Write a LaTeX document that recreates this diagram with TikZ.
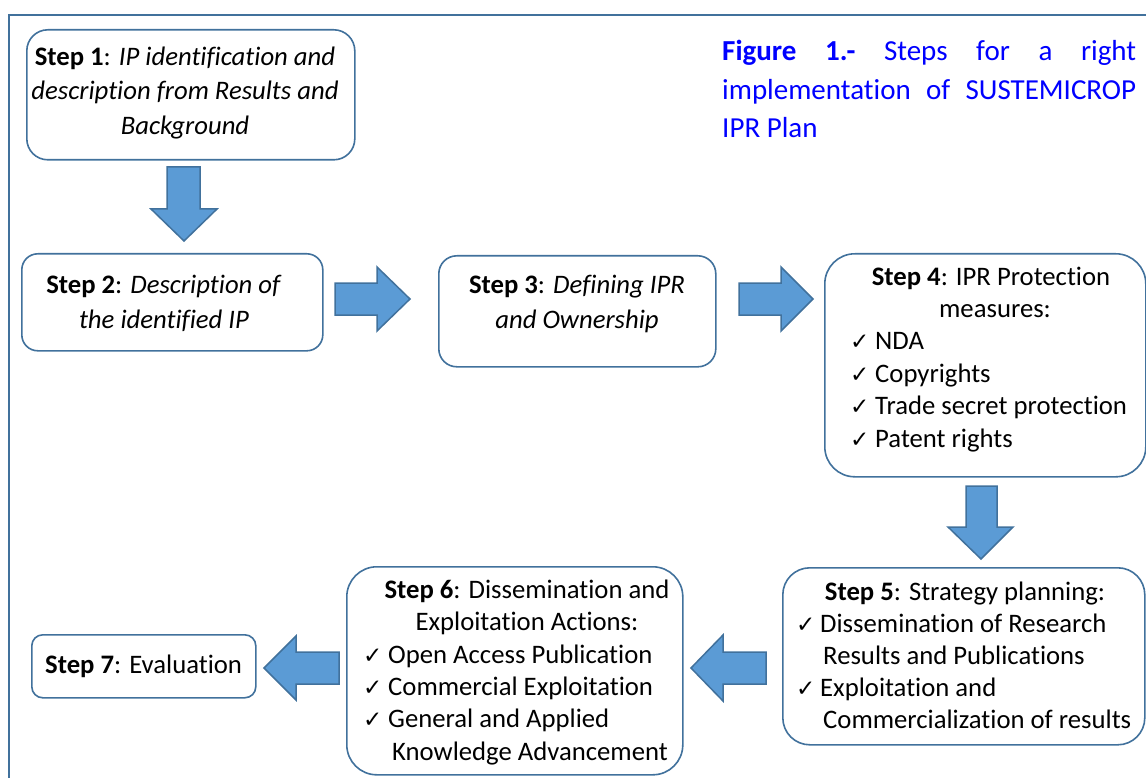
\documentclass[tikz,border=0pt]{standalone}
\usepackage{fontspec}
\setmainfont{Carlito}[Ligatures={NoCommon}]
\newfontfamily\symfont{DejaVu Sans}
\definecolor{bord}{HTML}{41719C}
\definecolor{afill}{HTML}{5B9BD5}
\definecolor{titleblue}{HTML}{0000FF}
\tikzset{
  box/.style={draw=bord, line width=1.6pt, fill=white, anchor=north west, inner sep=0pt},
  blockarrow/.style={draw=bord, line width=1.5pt, fill=afill, line join=miter},
  txt/.style={anchor=base west, inner sep=0pt, font=\fontsize{26.7}{32}\selectfont},
  ctxt/.style={anchor=base, inner sep=0pt, font=\fontsize{26.7}{32}\selectfont},
  chk/.style={anchor=base west, inner sep=0pt, font=\symfont\fontsize{23}{28}\selectfont},
  ttl/.style={anchor=base west, inner sep=0pt, text=titleblue, font=\fontsize{29}{35}\selectfont},
}
\begin{document}
\begin{tikzpicture}[x=1pt,y=-1pt]
\useasboundingbox (0,0) rectangle (1146,778);
% frame
\draw[bord, line width=2pt] (9,790) -- (9,15) -- (1160,15);

% boxes
\node[box, rounded corners=21pt, minimum width=328pt, minimum height=130pt] (s1) at (26,29) {};
\node[box, rounded corners=16pt, minimum width=301pt, minimum height=97pt] (s2) at (21,253) {};
\node[box, rounded corners=18pt, minimum width=277pt, minimum height=111pt] (s3) at (438,255) {};
\node[box, rounded corners=30pt, minimum width=321pt, minimum height=223pt] (s4) at (824,253) {};
\node[box, rounded corners=27pt, minimum width=362pt, minimum height=177pt] (s5) at (782,567) {};
\node[box, rounded corners=30pt, minimum width=336pt, minimum height=208pt] (s6) at (346,566) {};
\node[box, rounded corners=11pt, minimum width=224pt, minimum height=63pt] (s7) at (31,634) {};

% block arrows
\draw[blockarrow] (167,167) -- (200,167) -- (200,209) -- (217,209) -- (184,241) -- (151,209) -- (167,209) -- cycle;
\draw[blockarrow] (335,283) -- (377,283) -- (377,267) -- (410,299) -- (377,331) -- (377,315) -- (335,315) -- cycle;
\draw[blockarrow] (739,283) -- (781,283) -- (781,267) -- (813,299) -- (781,331) -- (781,315) -- (739,315) -- cycle;
\draw[blockarrow] (966,486) -- (997,486) -- (997,527) -- (1013,527) -- (981,559) -- (948,527) -- (966,527) -- cycle;
\draw[blockarrow] (766,652) -- (723,652) -- (723,635) -- (691,668) -- (723,701) -- (723,684) -- (766,684) -- cycle;
\draw[blockarrow] (339,652) -- (296,652) -- (296,636) -- (264,668) -- (296,700) -- (296,684) -- (339,684) -- cycle;

% title
\node[ttl] (t1) at (722,61) {\makebox[414pt][l]{\textbf{Figure}\hfill\textbf{1.-}\hfill Steps\hfill for\hfill a\hfill right}};
\node[ttl] (t2) at (722,99.5) {\makebox[414pt][l]{implementation\hfill of\hfill SUSTEMICROP}};
\node[ttl] (t3) at (722,138) {IPR Plan};

% step 1
\node[ctxt] (s1a) at (185,65.5) {\textbf{Step 1}: \textit{IP identification and}};
\node[ctxt] (s1b) at (185,100) {\textit{description from Results and}};
\node[ctxt] (s1c) at (185,135) {\textit{Background}};

% step 2
\node[ctxt] (s2a) at (164,293) {\textbf{Step 2}: \textit{Description of}};
\node[ctxt] (s2b) at (164,328) {\textit{the identified IP}};

% step 3
\node[ctxt] (s3a) at (577,293) {\textbf{Step 3}: \textit{Defining IPR}};
\node[ctxt] (s3b) at (577,328) {\textit{and Ownership}};

% step 4
\node[ctxt] (s4a) at (991,285) {\textbf{Step 4}: IPR Protection};
\node[ctxt] (s4b) at (995,317.4) {measures:};
\node[chk] (c4a) at (850,349.8) {✓};
\node[txt] (s4c) at (875,349.8) {NDA};
\node[chk] (c4b) at (850,382.2) {✓};
\node[txt] (s4d) at (875,382.2) {Copyrights};
\node[chk] (c4c) at (850,414.6) {✓};
\node[txt] (s4e) at (875,414.6) {Trade secret protection};
\node[chk] (c4d) at (850,447) {✓};
\node[txt] (s4f) at (875,447) {Patent rights};

% step 5
\node[ctxt] (s5a) at (965,600) {\textbf{Step 5}: Strategy planning:};
\node[chk] (c5a) at (796,632) {✓};
\node[txt] (s5b) at (820,632) {Dissemination of Research};
\node[txt] (s5c) at (823,664) {Results and Publications};
\node[chk] (c5b) at (796,696.5) {✓};
\node[txt] (s5d) at (820,696.5) {Exploitation and};
\node[txt] (s5e) at (823,728.5) {Commercialization of results};

% step 6
\node[ctxt] (s6a) at (527,598) {\textbf{Step 6}: Dissemination and};
\node[ctxt] (s6b) at (527,630) {Exploitation Actions:};
\node[chk] (c6a) at (363,663) {✓};
\node[txt] (s6c) at (388,663) {Open Access Publication};
\node[chk] (c6b) at (363,695) {✓};
\node[txt] (s6d) at (388,695) {Commercial Exploitation};
\node[chk] (c6c) at (363,727) {✓};
\node[txt] (s6e) at (388,727) {General and Applied};
\node[txt] (s6f) at (392,760) {Knowledge Advancement};

% step 7
\node[txt] (s7a) at (45,673) {\textbf{Step 7}: Evaluation};
\end{tikzpicture}
\end{document}
